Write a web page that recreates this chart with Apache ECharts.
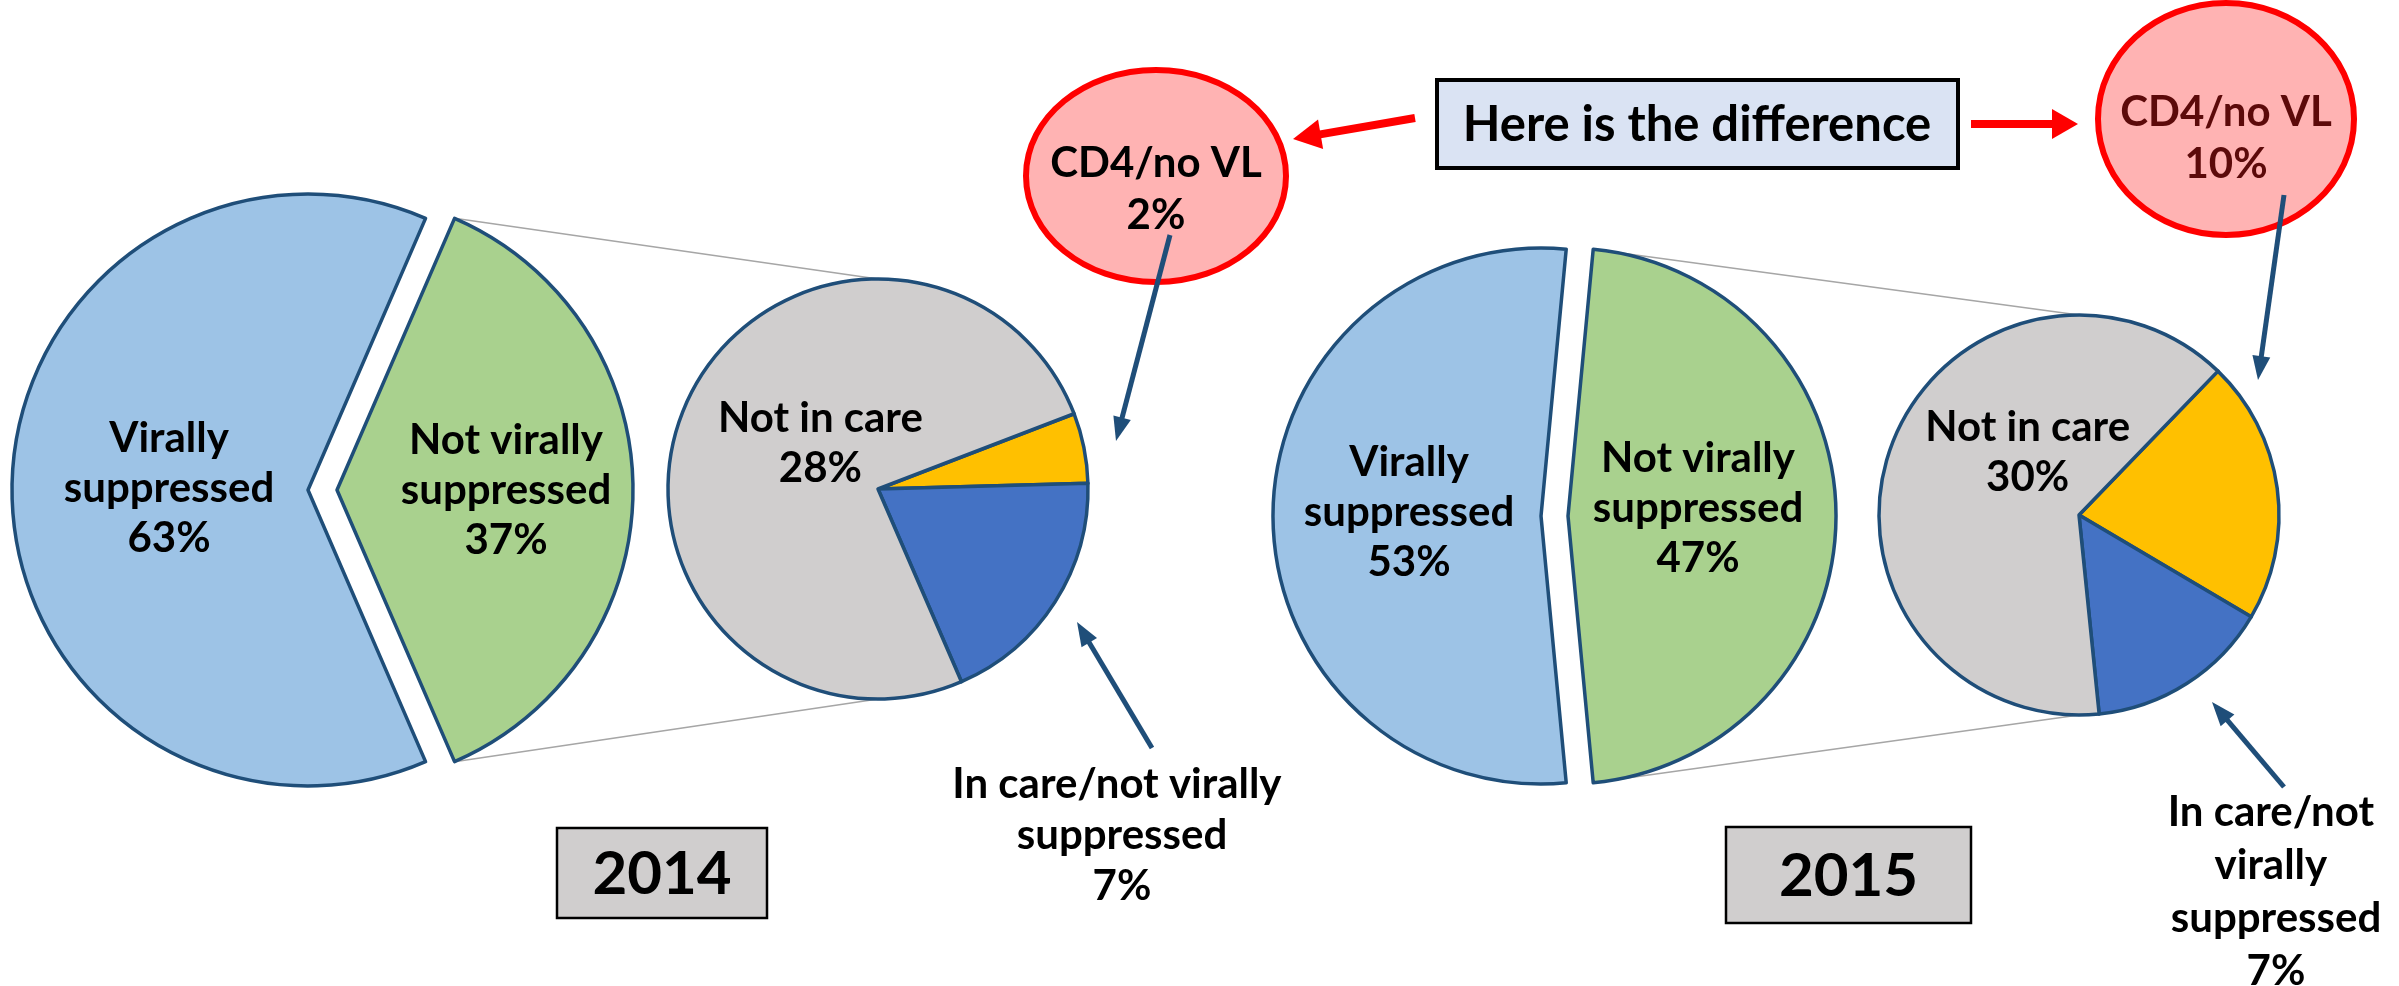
<!DOCTYPE html>
<html>
<head>
<meta charset="utf-8">
<title>Viral suppression 2014 vs 2015</title>
<script src="https://cdn.jsdelivr.net/npm/echarts/dist/echarts.min.js"></script>
<style>
  html, body { margin: 0; padding: 0; background: #fff; }
  #chart { width: 2399px; height: 986px; }
</style>
</head>
<body>
<div id="chart"></div>
<script>
// ---- data (percent of all people living with HIV) ----
var years = ['2014', '2015'];
var mainNames = ['Not virally suppressed', 'Virally suppressed'];
var main2014 = [37, 63];
var main2015 = [47, 53];
var subNames = ['CD4/no VL', 'In care/not virally suppressed', 'Not in care'];
var sub2014 = [2, 7, 28];
var sub2015 = [10, 7, 30];

var mainColors = ['#a9d18e', '#9dc3e6'];
var subColors = ['#ffc000', '#4472c4', '#d0cece'];
var edge = '#1f4e79';
var FONT = 'Lato, "Open Sans", sans-serif';

// ---- layout of the two panels ----
var panels = [
  { main: main2014, sub: sub2014, bigC: [308, 490], bigR: 296, gap: 29, smallC: [878, 489], smallR: 210, smallStart: 21,
    mainDx: [18, 12], mainDy: [0, -2], subDx: 42, subDy: -4,
    box: [557, 828, 210, 90], wrapW: 350, careText: [1122, 835], careLH: 51,
    ell: [1156, 176, 130, 106], ellText: [1156, 189], ellColor: '#000',
    cdArrow: [1170, 235, 1116, 441], careArrow: [1152, 748, 1077, 622] },
  { main: main2015, sub: sub2015, bigC: [1541, 516], bigR: 268, gap: 27, smallC: [2079, 515], smallR: 200, smallStart: 46,
    mainDx: [-7, 5], mainDy: [-8, -4], subDx: 46, subDy: -29,
    box: [1726, 827, 245, 96], wrapW: 240, careText: [2276, 892], careLH: 53,
    ell: [2226, 119, 128, 116], ellText: [2226, 138], ellColor: '#5c0a0a',
    cdArrow: [2284, 195, 2258, 380], careArrow: [2284, 787, 2212, 702] }
];

function arrow(x1, y1, x2, y2, color, w, hl, hw) {
  var dx = x2 - x1, dy = y2 - y1, len = Math.sqrt(dx * dx + dy * dy);
  var ux = dx / len, uy = dy / len, px = -uy, py = ux;
  var bx = x2 - ux * hl, by = y2 - uy * hl;
  return [
    { type: 'line', z: 20, shape: { x1: x1, y1: y1, x2: bx + ux * 2, y2: by + uy * 2 }, style: { stroke: color, lineWidth: w } },
    { type: 'polygon', z: 20, shape: { points: [[x2, y2], [bx + px * hw / 2, by + py * hw / 2], [bx - px * hw / 2, by - py * hw / 2]] }, style: { fill: color } }
  ];
}

var series = [];
var graphics = [];

panels.forEach(function (p, i) {
  var half = p.main[0] / 100 * 180;   // green slice centred on 3 o'clock
  series.push({
    type: 'pie',
    center: p.bigC,
    radius: p.bigR,
    startAngle: half,
    clockwise: true,
    selectedMode: 'single',
    selectedOffset: p.gap,
    avoidLabelOverlap: false,
    animation: false,
    emphasis: { disabled: true },
    itemStyle: { borderColor: edge, borderWidth: 3.5 },
    label: {
      show: true, position: 'inside', color: '#000', fontFamily: FONT, fontWeight: 'bold', fontSize: 42, lineHeight: 50,
      formatter: function (d) { return d.name.replace(' suppressed', '\nsuppressed') + '\n' + d.value + '%'; }
    },
    labelLine: { show: false },
    labelLayout: function (d) { return { dx: p.mainDx[d.dataIndex], dy: p.mainDy[d.dataIndex] }; },
    data: p.main.map(function (v, k) {
      return { name: mainNames[k], value: v, selected: k === 0, itemStyle: { color: mainColors[k] } };
    })
  });
  series.push({
    type: 'pie',
    center: p.smallC,
    radius: p.smallR,
    startAngle: p.smallStart,
    clockwise: true,
    avoidLabelOverlap: false,
    animation: false,
    emphasis: { disabled: true },
    itemStyle: { borderColor: edge, borderWidth: 3.5 },
    label: {
      show: true, position: 'inside', color: '#000', fontFamily: FONT, fontWeight: 'bold', fontSize: 42, lineHeight: 50,
      formatter: function (d) { return d.name + '\n' + d.value + '%'; }
    },
    labelLine: { show: false },
    labelLayout: function () { return { dx: p.subDx, dy: p.subDy }; },
    data: p.sub.map(function (v, k) {
      return { name: subNames[k], value: v, itemStyle: { color: subColors[k] }, label: { show: k === 2 } };
    })
  });

  // connector lines from the exploded slice to the breakdown pie
  var a = half * Math.PI / 180;
  var gx = p.bigC[0] + p.gap + p.bigR * Math.cos(a);
  var gyT = p.bigC[1] - p.bigR * Math.sin(a), gyB = p.bigC[1] + p.bigR * Math.sin(a);
  graphics.push(
    { type: 'line', z: 0, shape: { x1: gx, y1: gyT, x2: p.smallC[0], y2: p.smallC[1] - p.smallR }, style: { stroke: '#a6a6a6', lineWidth: 1.5 } },
    { type: 'line', z: 0, shape: { x1: gx, y1: gyB, x2: p.smallC[0], y2: p.smallC[1] + p.smallR }, style: { stroke: '#a6a6a6', lineWidth: 1.5 } }
  );

  // year box
  graphics.push(
    { type: 'rect', z: 10, shape: { x: p.box[0], y: p.box[1], width: p.box[2], height: p.box[3] }, style: { fill: '#d0cece', stroke: '#000', lineWidth: 2.5 } },
    { type: 'text', z: 11, style: { text: years[i], x: p.box[0] + p.box[2] / 2, y: p.box[1] + p.box[3] / 2 + 2, align: 'center', verticalAlign: 'middle', font: 'bold 60px ' + FONT, fill: '#000' } }
  );

  // CD4/no VL bubble
  graphics.push(
    { type: 'ellipse', z: 10, shape: { cx: p.ell[0], cy: p.ell[1], rx: p.ell[2], ry: p.ell[3] }, style: { fill: '#ffb3b3', stroke: '#ff0000', lineWidth: 6 } },
    { type: 'text', z: 11, style: { text: subNames[0] + '\n' + p.sub[0] + '%', x: p.ellText[0], y: p.ellText[1], align: 'center', verticalAlign: 'middle', font: 'bold 42px ' + FONT, lineHeight: 52, fill: p.ellColor } }
  );
  graphics = graphics.concat(arrow(p.cdArrow[0], p.cdArrow[1], p.cdArrow[2], p.cdArrow[3], edge, 5, 24, 18));

  // In care / not virally suppressed callout
  graphics.push(
    { type: 'text', z: 11, style: { text: subNames[1] + '\n' + p.sub[1] + '%', x: p.careText[0], y: p.careText[1], width: p.wrapW, overflow: 'break', align: 'center', verticalAlign: 'middle', font: 'bold 42px ' + FONT, lineHeight: p.careLH, fill: '#000' } }
  );
  graphics = graphics.concat(arrow(p.careArrow[0], p.careArrow[1], p.careArrow[2], p.careArrow[3], edge, 5, 24, 18));
});

// "Here is the difference" banner and red arrows
graphics.push(
  { type: 'rect', z: 10, shape: { x: 1437, y: 80, width: 521, height: 88 }, style: { fill: '#dae3f3', stroke: '#000', lineWidth: 4 } },
  { type: 'text', z: 11, style: { text: 'Here is the difference', x: 1697, y: 125, align: 'center', verticalAlign: 'middle', font: 'bold 49px ' + FONT, fill: '#000' } }
);
graphics = graphics.concat(arrow(1415, 118, 1293, 139, '#ff0000', 8, 28, 30));
graphics = graphics.concat(arrow(1971, 124, 2078, 124, '#ff0000', 8, 26, 30));

var chart = echarts.init(document.getElementById('chart'));
chart.setOption({
  backgroundColor: '#fff',
  animation: false,
  series: series,
  graphic: { elements: graphics }
});
</script>
</body>
</html>
